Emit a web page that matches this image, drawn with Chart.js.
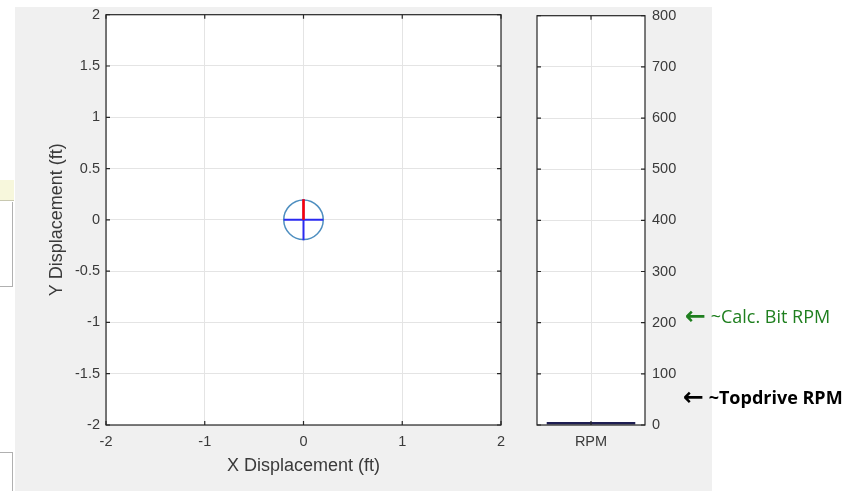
<!DOCTYPE html>
<html>
<head>
<meta charset="utf-8">
<script src="https://cdn.jsdelivr.net/npm/chart.js@4.4.0/dist/chart.umd.min.js"></script>
<style>
body{margin:0;width:856px;height:491px;background:#fff;position:relative;overflow:hidden;font-family:"Liberation Sans",Arial,sans-serif}
#bg{position:absolute;left:15px;top:7px;width:697px;height:484px;background:#f0f0f0}
#c1{position:absolute;left:0;top:0}
#c2{position:absolute;left:520px;top:0}
.note{position:absolute;font-family:"Open Sans",sans-serif;font-size:18px;line-height:22px;white-space:nowrap}
.arr{font-family:"DejaVu Sans",sans-serif;font-weight:bold;font-size:25px;vertical-align:-1px}
.frag{position:absolute;left:0;width:12px;border-right:1px solid #b0b0b0}
</style>
</head>
<body>
<div class="frag" style="top:180px;height:20px;width:14px;background:#f7f7dc;border-right:none;border-bottom:1px solid #c8c8b0"></div>
<div class="frag" style="top:202px;height:84px;background:#fff;border-bottom:1px solid #b0b0b0"></div>
<div class="frag" style="top:452px;height:39px;background:#fff;border-top:1px solid #b0b0b0"></div>
<div id="bg"></div>
<canvas id="c1" width="520" height="491"></canvas>
<canvas id="c2" width="200" height="491"></canvas>
<div class="note" style="left:685px;top:305px;color:#1f7f1f"><span class="arr">&larr;</span> ~Calc. Bit RPM</div>
<div class="note" style="left:683px;top:386px;color:#000;font-weight:bold"><span class="arr">&larr;</span> ~Topdrive RPM</div>
<script>
// 변위 차트 데이터
const circleRadius = 0.2;
const circleCenter = [{x:0, y:0}];
const redLine = [{x:0, y:0}, {x:0, y:0.2}];
const blueHLine = [{x:-0.2, y:0}, {x:0.2, y:0}];
const blueVLine = [{x:0, y:-0.2}, {x:0, y:0.2}];
const xMin = -2, xMax = 2, xStep = 1;
const yMin = -2, yMax = 2, yStep = 0.5;

// RPM 차트 데이터
const rpmLabels = ["RPM"];
const rpmValues = [6];
const rpmMin = 0, rpmMax = 800, rpmStep = 100;

const textColor = "#3a3a3a";
const gridColor = "#e4e4e4";
const tickFont = {size: 14.5};
const titleFont = {size: 18};

// 흰 배경 + 테두리 + 안쪽 눈금 (MATLAB 스타일)
const boxPlugin = {
    id: "box",
    beforeDraw(chart){
        const a = chart.chartArea, c = chart.ctx;
        c.save();
        c.fillStyle = "#fff";
        c.fillRect(a.left, a.top, a.right - a.left, a.bottom - a.top);
        c.restore();
    },
    afterDraw(chart){
        const a = chart.chartArea, c = chart.ctx;
        c.save();
        c.strokeStyle = "#262626";
        c.lineWidth = 1.2;
        c.beginPath();
        Object.values(chart.scales).forEach(function(s){
            s.ticks.forEach(function(t, i){
                const p = s.getPixelForTick(i);
                if(s.isHorizontal()){
                    c.moveTo(p, a.bottom); c.lineTo(p, a.bottom - 4);
                    c.moveTo(p, a.top); c.lineTo(p, a.top + 4);
                } else {
                    c.moveTo(a.left, p); c.lineTo(a.left + 4, p);
                    c.moveTo(a.right, p); c.lineTo(a.right - 4, p);
                }
            });
        });
        c.stroke();
        c.strokeRect(a.left, a.top, a.right - a.left, a.bottom - a.top);
        c.restore();
    }
};

function plainNum(v){ return String(Number(v)); }

let chart1 = new Chart(document.getElementById("c1"), {
    type: "scatter",
    plugins: [boxPlugin],
    data: {
        datasets: [
            {data: redLine, showLine: true, borderColor: "#ff0000", borderWidth: 2.5, pointRadius: 0},
            {data: blueHLine, showLine: true, borderColor: "#2a2af0", borderWidth: 2, pointRadius: 0},
            {data: blueVLine, showLine: true, borderColor: "#2a2af0", borderWidth: 2, pointRadius: 0},
            {
                data: circleCenter,
                pointStyle: "circle",
                backgroundColor: "rgba(0,0,0,0)",
                borderColor: "#4f8fc0",
                borderWidth: 1.5,
                pointRadius: function(ctx){
                    const s = ctx.chart.scales.x;
                    if(!s) return 0;
                    return Math.abs(s.getPixelForValue(circleRadius) - s.getPixelForValue(0));
                }
            }
        ]
    },
    options: {
        responsive: false,
        animation: false,
        events: [],
        layout: {padding: {top: 13, right: 19, left: 0, bottom: 0}},
        plugins: {legend: {display: false}, tooltip: {enabled: false}},
        scales: {
            x: {
                type: "linear", min: xMin, max: xMax,
                ticks: {stepSize: xStep, color: textColor, font: tickFont, padding: 8, callback: plainNum},
                grid: {color: gridColor, drawTicks: false},
                border: {display: false},
                title: {display: true, text: "X Displacement (ft)", color: textColor, font: titleFont, padding: {top: 0, bottom: 14}},
                afterFit: function(s){ s.height = 66; }
            },
            y: {
                type: "linear", min: yMin, max: yMax,
                ticks: {stepSize: yStep, color: textColor, font: tickFont, padding: 6, callback: plainNum},
                grid: {color: gridColor, drawTicks: false},
                border: {display: false},
                title: {display: true, text: "Y Displacement (ft)", color: textColor, font: titleFont, padding: {top: 46, bottom: 0}},
                afterFit: function(s){ s.width = 106; }
            }
        }
    }
});

let chart2 = new Chart(document.getElementById("c2"), {
    type: "bar",
    plugins: [boxPlugin],
    data: {
        labels: rpmLabels,
        datasets: [
            {data: rpmValues, backgroundColor: "#1e1e52", barPercentage: 0.82, categoryPercentage: 1}
        ]
    },
    options: {
        responsive: false,
        animation: false,
        events: [],
        layout: {padding: {top: 13, right: 0, left: 17, bottom: 0}},
        plugins: {legend: {display: false}, tooltip: {enabled: false}},
        scales: {
            x: {
                ticks: {color: textColor, font: tickFont, padding: 8},
                grid: {color: gridColor, drawTicks: false, offset: false},
                border: {display: false},
                afterFit: function(s){ s.height = 66; }
            },
            y: {
                position: "right", min: rpmMin, max: rpmMax,
                ticks: {stepSize: rpmStep, color: textColor, font: tickFont, padding: 7},
                grid: {color: gridColor, drawTicks: false},
                border: {display: false},
                afterFit: function(s){ s.width = 75; }
            }
        }
    }
});
</script>
</body>
</html>
